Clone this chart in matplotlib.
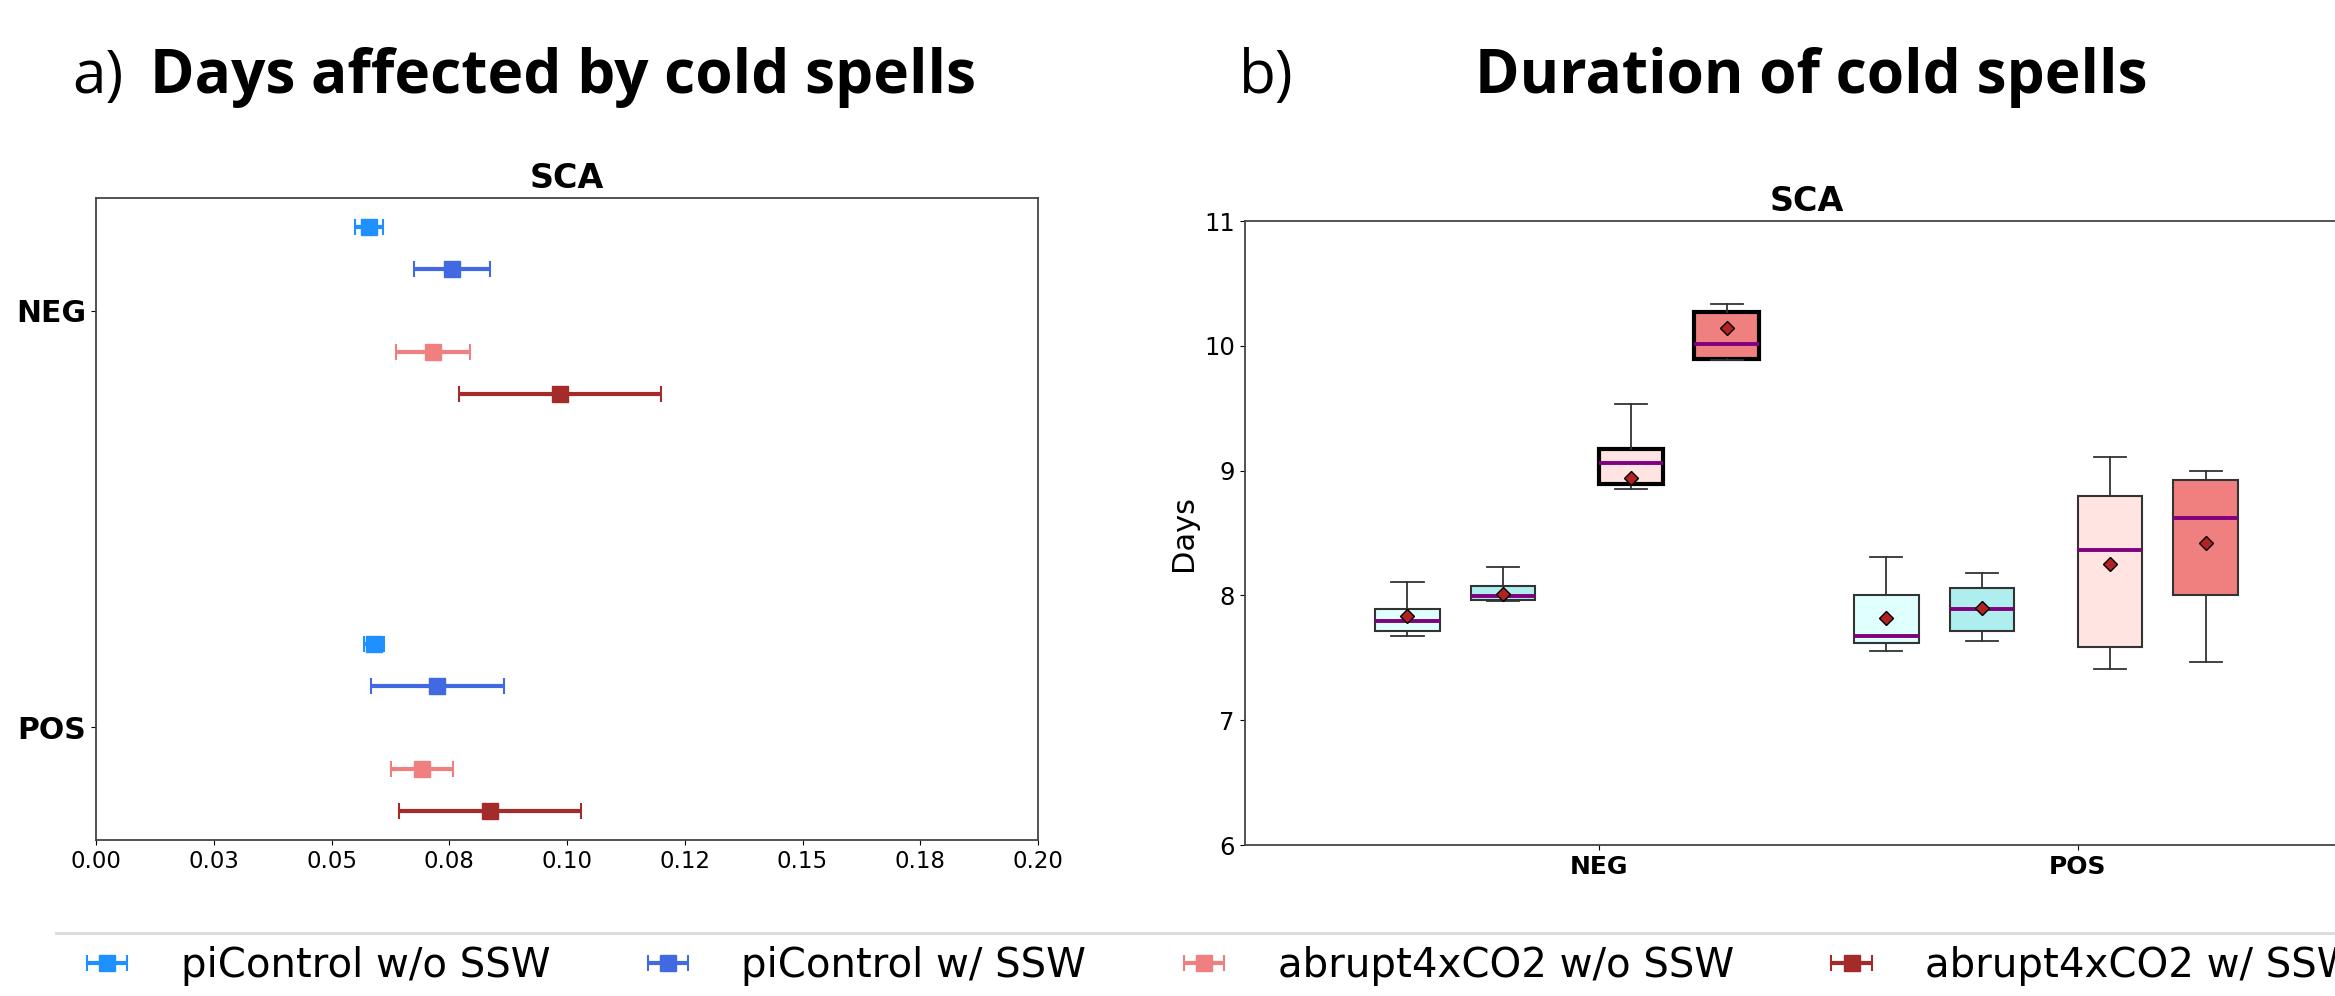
import numpy as np
import matplotlib.pyplot as plt
from matplotlib.lines import Line2D

# ---- data ----
groups = ['NEG', 'POS']
runs = ['piControl w/o SSW', 'piControl w/ SSW', 'abrupt4xCO2 w/o SSW', 'abrupt4xCO2 w/ SSW']
run_colors = ['dodgerblue', 'royalblue', 'lightcoral', 'brown']
box_colors = ['lightcyan', 'paleturquoise', 'mistyrose', 'lightcoral']

# a) fraction of days affected by cold spells: mean and interval per run
frac_mean_neg = [0.0580, 0.0756, 0.0715, 0.0985]
frac_lo_neg = [0.0550, 0.0675, 0.0638, 0.0770]
frac_hi_neg = [0.0610, 0.0837, 0.0793, 0.1200]
frac_mean_pos = [0.0591, 0.0725, 0.0692, 0.0837]
frac_lo_pos = [0.0570, 0.0584, 0.0626, 0.0643]
frac_hi_pos = [0.0612, 0.0867, 0.0758, 0.1029]

frac_ticks = [0.0, 0.025, 0.05, 0.075, 0.1, 0.125, 0.15, 0.175, 0.2]
frac_ticklabels = ['0.00', '0.03', '0.05', '0.08', '0.10', '0.12', '0.15', '0.18', '0.20']

# b) duration of cold spells (days): box statistics per run
dur_whislo_neg = [7.675, 7.955, 8.850, 9.889]
dur_q1_neg = [7.714, 7.963, 8.893, 9.897]
dur_med_neg = [7.795, 7.995, 9.058, 10.012]
dur_q3_neg = [7.889, 8.078, 9.173, 10.271]
dur_whishi_neg = [8.107, 8.225, 9.536, 10.332]
dur_mean_neg = [7.833, 8.009, 8.943, 10.143]
dur_sig_neg = [False, False, True, True]

dur_whislo_pos = [7.554, 7.637, 7.408, 7.466]
dur_q1_pos = [7.616, 7.717, 7.589, 8.003]
dur_med_pos = [7.677, 7.891, 8.361, 8.618]
dur_q3_pos = [8.006, 8.059, 8.794, 8.922]
dur_whishi_pos = [8.305, 8.177, 9.109, 8.999]
dur_mean_pos = [7.821, 7.896, 8.252, 8.420]
dur_sig_pos = [False, False, False, False]

# ---- layout ----
W, H = 2335, 996
fig = plt.figure(figsize=(W / 100, H / 100), dpi=100)


def px_box(l, t, r, b):
    return [l / W, 1 - b / H, (r - l) / W, (b - t) / H]


spine_col = '#444444'
row_offsets = [0.2, 0.1, -0.1, -0.2]       # panel a, NEG at 1, POS at 0
box_offsets = [-0.40, -0.20, 0.067, 0.267]  # panel b, NEG at 1, POS at 2

# ---- panel a ----
ax1 = fig.add_axes(px_box(96, 198, 1038, 840))
handles = []
for i, run in enumerate(runs):
    means = np.array([frac_mean_neg[i], frac_mean_pos[i]])
    lows = np.array([frac_lo_neg[i], frac_lo_pos[i]])
    highs = np.array([frac_hi_neg[i], frac_hi_pos[i]])
    ys = np.array([1, 0]) + row_offsets[i]
    h = ax1.errorbar(means, ys, xerr=[means - lows, highs - means], fmt='s',
                     color=run_colors[i], ms=12, elinewidth=3, capsize=6,
                     capthick=1.5, label=run)
    handles.append(h)

ax1.set_xlim(0, 0.2)
ax1.set_ylim(-0.27, 1.27)
ax1.set_xticks(frac_ticks)
ax1.set_xticklabels(frac_ticklabels, fontsize=16.5)
ax1.set_yticks([1, 0])
ax1.set_yticklabels(groups, fontsize=21.5, fontweight='bold')
ax1.set_title('SCA', fontsize=24, fontweight='bold', pad=7)
for sp in ax1.spines.values():
    sp.set_color(spine_col)
    sp.set_linewidth(1.3)

# ---- panel b ----
ax2 = fig.add_axes(px_box(1244.5, 221, 2370, 845))
stats, positions, fills, sigs = [], [], [], []
for g, gx in enumerate([1, 2]):
    if g == 0:
        lo, q1, med, q3, hi, mn, sg = (dur_whislo_neg, dur_q1_neg, dur_med_neg,
                                       dur_q3_neg, dur_whishi_neg, dur_mean_neg, dur_sig_neg)
    else:
        lo, q1, med, q3, hi, mn, sg = (dur_whislo_pos, dur_q1_pos, dur_med_pos,
                                       dur_q3_pos, dur_whishi_pos, dur_mean_pos, dur_sig_pos)
    for i in range(len(runs)):
        stats.append(dict(whislo=lo[i], q1=q1[i], med=med[i], q3=q3[i],
                          whishi=hi[i], mean=mn[i], fliers=[]))
        positions.append(gx + box_offsets[i])
        fills.append(box_colors[i])
        sigs.append(sg[i])

bp = ax2.bxp(stats, positions=positions, widths=0.135, patch_artist=True,
             showmeans=True, manage_ticks=False,
             medianprops=dict(color='purple', linewidth=2.8),
             meanprops=dict(marker='D', markerfacecolor='firebrick',
                            markeredgecolor='black', markersize=7.5),
             whiskerprops=dict(color='#333333', linewidth=1.3),
             capprops=dict(color='#333333', linewidth=1.3),
             boxprops=dict(edgecolor='#333333', linewidth=1.5))
for patch, fc, sg in zip(bp['boxes'], fills, sigs):
    patch.set_facecolor(fc)
    if sg:
        patch.set_edgecolor('black')
        patch.set_linewidth(3)

ax2.set_xlim(0.26, 2.61)
ax2.set_ylim(6, 11)
ax2.set_xticks([1, 2])
ax2.set_xticklabels(groups, fontsize=18, fontweight='bold')
ax2.set_yticks(range(6, 12))
ax2.tick_params(axis='y', labelsize=17.5)
ax2.set_ylabel('Days', fontsize=22)
ax2.set_title('SCA', fontsize=24, fontweight='bold', pad=7)
for sp in ax2.spines.values():
    sp.set_color(spine_col)
    sp.set_linewidth(1.3)

# ---- panel headings ----
head_font = 'Open Sans'
fig.text(72 / W, 1 - 93 / H, 'a)', fontsize=43.5, family=head_font, va='baseline')
fig.text(150 / W, 1 - 93 / H, 'Days affected by cold spells', fontsize=43.5,
         family=head_font, fontweight='bold', va='baseline')
fig.text(1239 / W, 1 - 93 / H, 'b)', fontsize=43.5, family=head_font, va='baseline')
fig.text(1475 / W, 1 - 93 / H, 'Duration of cold spells', fontsize=43.5,
         family=head_font, fontweight='bold', va='baseline')

# ---- legend ----
fig.add_artist(Line2D([56 / W, 1], [1 - 933 / H, 1 - 933 / H], color='#dddddd',
                      lw=2.2, transform=fig.transFigure))
fig.legend(handles, runs, loc='center left', bbox_to_anchor=(86 / W, 1 - 966 / H),
           ncol=4, frameon=False, fontsize=29, handlelength=1.05,
           handletextpad=1.3, columnspacing=2.4, borderaxespad=0, borderpad=0)

fig.savefig('out.png', dpi=100)
